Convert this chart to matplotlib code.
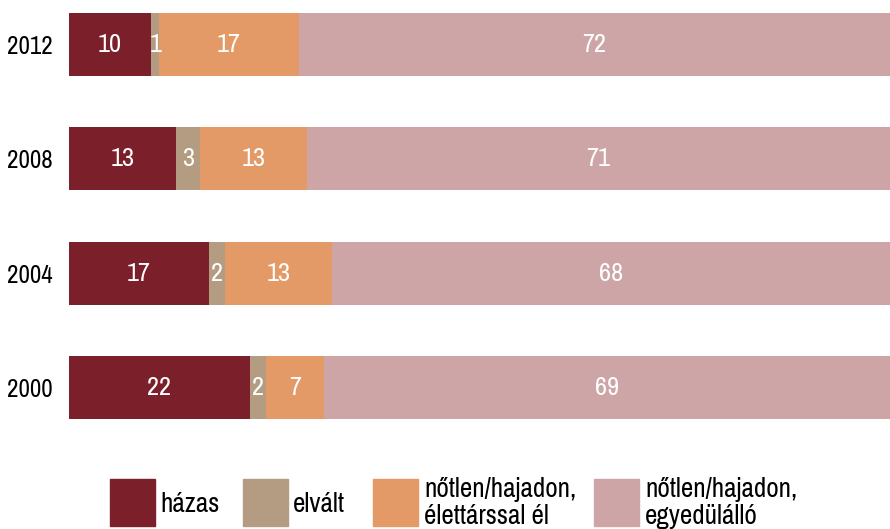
import matplotlib
matplotlib.use("Agg")
import matplotlib.pyplot as plt
from matplotlib.patches import Rectangle
from matplotlib import font_manager as fm

years = ["2012", "2008", "2004", "2000"]
hazas = [10, 13, 17, 22]
elvalt = [1, 3, 2, 2]
elettars = [17, 13, 13, 7]
egyedul = [72, 71, 68, 69]
series_names = ["házas", "elvált", "nőtlen/hajadon,\nélettárssal él", "nőtlen/hajadon,\negyedülálló"]
colors = ["#7B1F2B", "#B39C82", "#E39A66", "#CDA5A6"]

names = sorted({f.name for f in fm.fontManager.ttflist})
narrow = [n for n in names if "Narrow" in n or "Condensed" in n]
fam = narrow[0] if narrow else "Liberation Sans"
plt.rcParams['font.family'] = [fam, 'DejaVu Sans']
FS = 19
FSY = 18
FSL = 19.5

W, H = 890, 529
fig = plt.figure(figsize=(W / 100, H / 100), dpi=100)
ax_left = 69 / W
ax_top = 1 - 13 / H
ax_bottom = 1 - 419 / H
ax = fig.add_axes([ax_left, ax_bottom, 1 - ax_left, ax_top - ax_bottom])

h = 63 / 114
ypos = list(range(len(years)))
data = [hazas, elvalt, elettars, egyedul]
left = [0] * len(years)
for vals, col in zip(data, colors):
    ax.barh(ypos, vals, left=left, height=h, color=col, edgecolor='none')
    for y, v, l in zip(ypos, vals, left):
        ax.text(l + v / 2, y, str(v), ha='center', va='center', color='white',
                fontsize=FS)
    left = [a + b for a, b in zip(left, vals)]

ax.set_xlim(0, 100)
ax.set_ylim(3 + h / 2, -h / 2)
ax.set_yticks(ypos)
ax.set_yticklabels(years, fontsize=FSY)
ax.tick_params(axis='y', length=0, pad=12)
ax.set_xticks([])
for s in ax.spines.values():
    s.set_visible(False)

# legend
leg_x = [110, 243, 373, 594]
for x, col, name in zip(leg_x, colors, series_names):
    fig.patches.append(Rectangle((x / W, 1 - 526 / H), 45 / W, 47 / H,
                                 transform=fig.transFigure, color=col))
    if "\n" in name:
        fig.text((x + 51) / W, 1 - 503 / H, name, ha='left', va='center',
                 fontsize=FSL, linespacing=1.1)
    else:
        fig.text((x + 50) / W, 1 - 504 / H, name, ha='left', va='center',
                 fontsize=FSL)

fig.savefig("out.png", dpi=100)
